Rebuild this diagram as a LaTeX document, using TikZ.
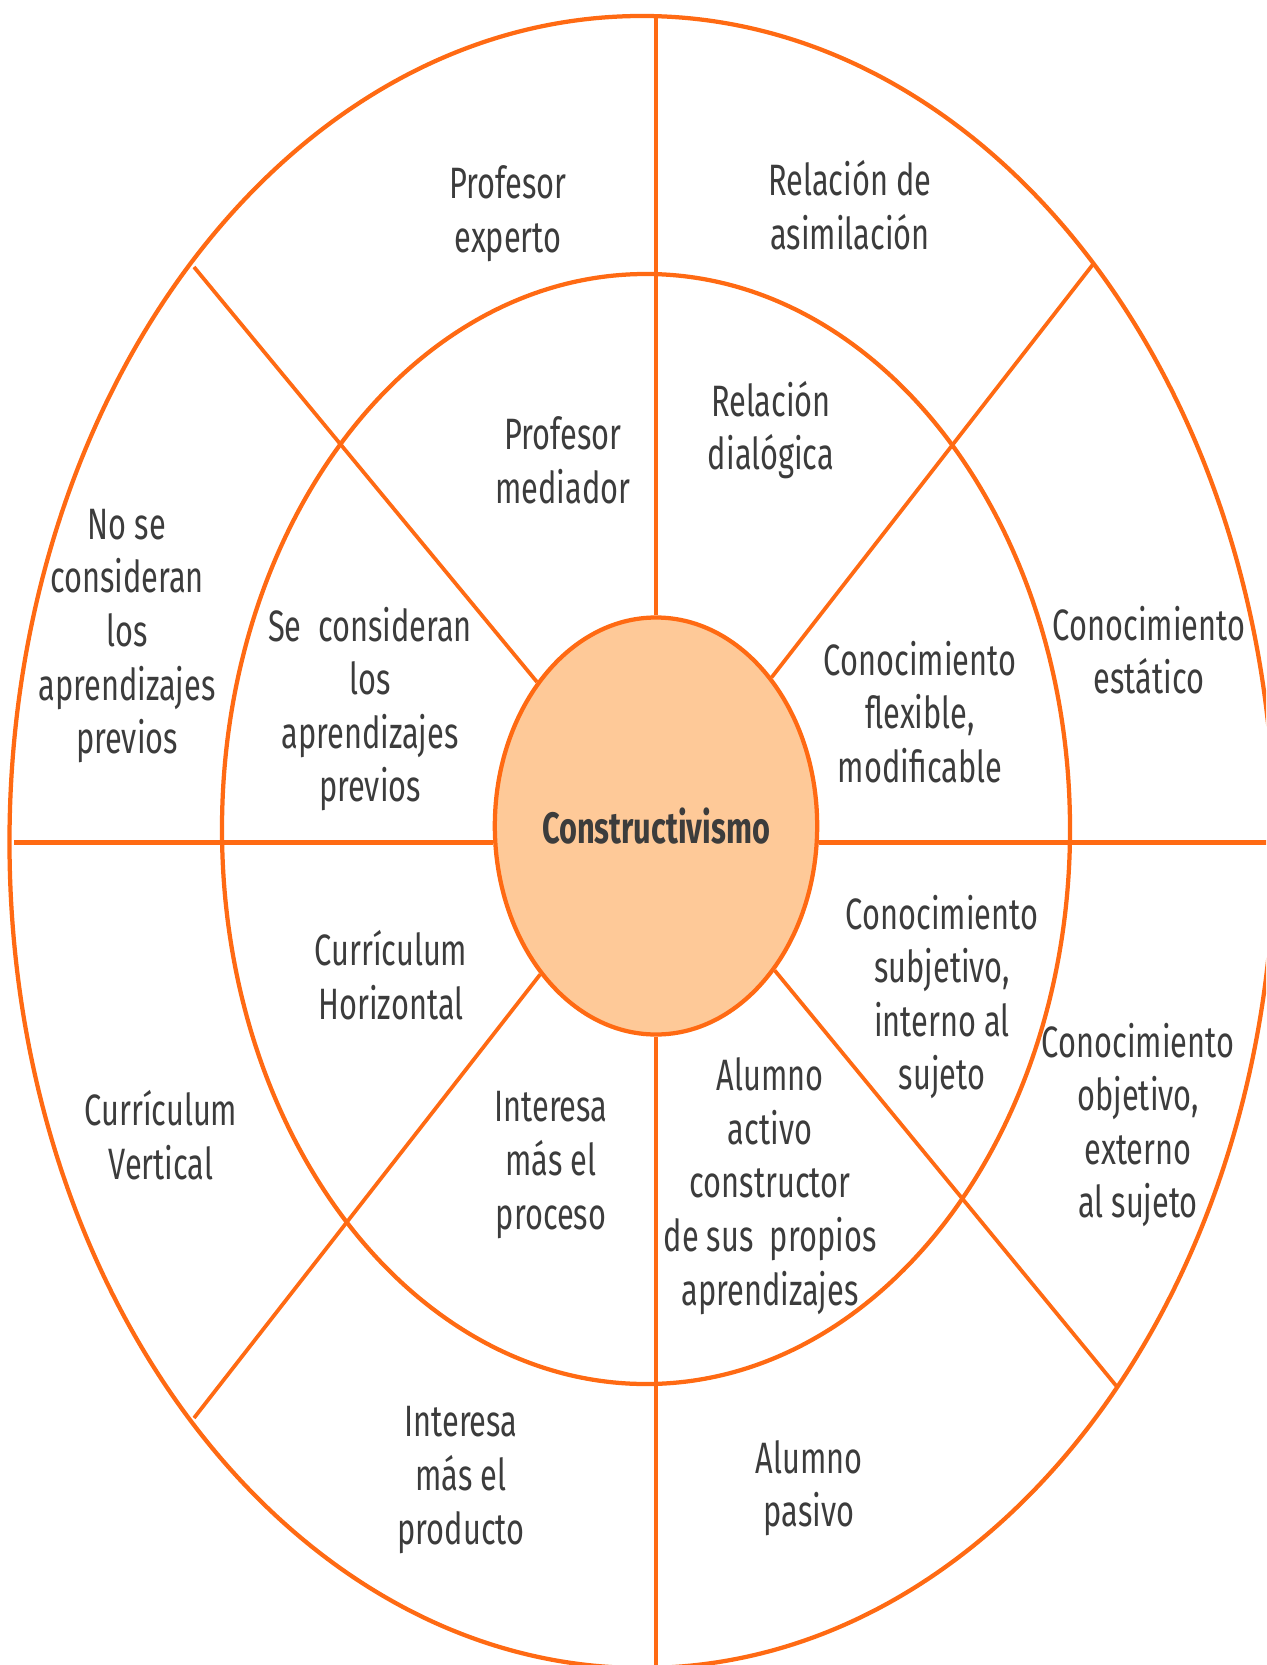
\documentclass[tikz,border=0pt]{standalone}
\usepackage{fontspec}
\setmainfont{Fira Sans}[FakeStretch=0.7]
\usepackage{tikz}
\usetikzlibrary{shapes.geometric}
\definecolor{ringorange}{RGB}{255, 106, 19}
\definecolor{corefill}{RGB}{254, 201, 152}
\definecolor{txtgray}{RGB}{60, 60, 60}

\begin{document}
\begin{tikzpicture}[
                x = 0.2mm, y = -0.2mm, % one unit is one pixel of the picture
                line width = 0.8mm, % line style
                draw = ringorange,
                ring/.style = {draw = ringorange, line width = 0.85mm},
                spoke/.style = {draw = ringorange, line width = 0.75mm},
                label/.style = {align = center, text = txtgray, inner sep = 0pt,
                    font = \fontsize{25}{30.5}\selectfont}
                ]
                \tikzstyle{core}=[
                    ellipse,
                    draw = ringorange,
                    fill = corefill,
                    line width = 0.85mm,
                    minimum width = 64mm,
                    minimum height = 83.4mm,
                    inner sep = 0pt,
                    text = txtgray,
                    font = \fontsize{25}{30}\selectfont\bfseries
                ]
                \useasboundingbox (0,0) rectangle (1266,1665);
                \clip (0,0) rectangle (1266,1665);

                % rings
                \draw[ring] (642,842) ellipse [x radius = 126.5mm, y radius = 165.2mm];
                \draw[ring] (646,829) ellipse [x radius = 84.8mm, y radius = 111mm];

                % free ends of the spokes
                \coordinate (top) at (656,16);
                \coordinate (bot) at (656,1680);
                \coordinate (lft) at (14,842);
                \coordinate (rgt) at (1270,842);
                \coordinate (ul) at (194,267);
                \coordinate (ur) at (1094,263);
                \coordinate (ll) at (194,1418);
                \coordinate (lr) at (1118,1388);

                \node[core] (c) at (656,826) {Constructivismo};

                \draw[spoke] (c) -- (top);
                \draw[spoke] (c) -- (bot);
                \draw[spoke] (c) -- (ul);
                \draw[spoke] (c) -- (ur);
                \draw[spoke] (c) -- (ll);
                \draw[spoke] (c) -- (lr);
                \draw[spoke, line width = 1mm] (lft) -- (lft -| c.west);
                \draw[spoke, line width = 1mm] (c.east |- rgt) -- (rgt);

                % outer ring
                \node[label] (pe) at (508,214) {Profesor\\experto};
                \node[label] (ra) at (850,205) {Relación de\\asimilación};
                \node[label] (nc) at (127,636) {No se\\consideran\\los\\aprendizajes\\previos};
                \node[label] (ce) at (1149,650) {Conocimiento\\estático};
                \node[label] (cv) at (161,1135) {Currículum\\Vertical};
                \node[label] (co) at (1138,1125) {Conocimiento\\objetivo,\\externo\\al sujeto};
                \node[label] (ipr) at (461,1480) {Interesa\\más el\\producto};
                \node[label] (ap) at (809,1488) {Alumno\\pasivo};

                % inner ring
                \node[label] (pm) at (563,460) {Profesor\\mediador};
                \node[label] (rd) at (771,430) {Relación\\dialógica};
                \node[label] (sc) at (370,709) {Se \ consideran\\los\\aprendizajes\\previos};
                \node[label] (cf) at (920,712) {Conocimiento\\flexible,\\modificable};
                \node[label] (ch) at (391,975) {Currículum\\Horizontal};
                \node[label] (cs) at (942,997) {Conocimiento\\subjetivo,\\interno al\\sujeto};
                \node[label] (ip) at (551,1165) {Interesa\\más el\\proceso};
                \node[label] (aa) at (770,1186) {Alumno\\activo\\constructor\\de sus \ propios\\aprendizajes};
            \end{tikzpicture}
\end{document}
